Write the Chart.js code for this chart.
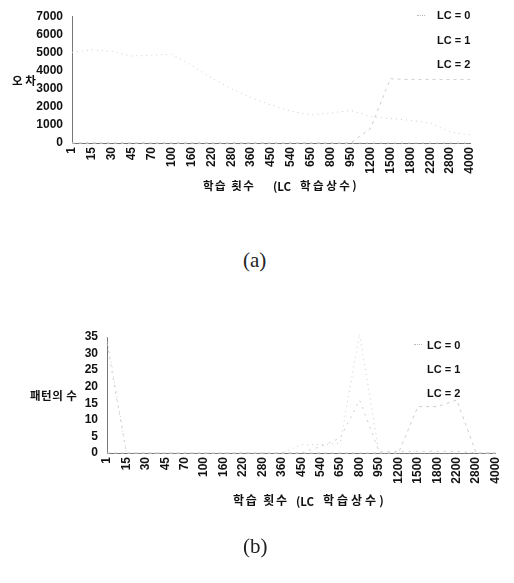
<!DOCTYPE html>
<html>
<head>
<meta charset="utf-8">
<script src="https://cdn.jsdelivr.net/npm/chart.js@4.4.0/dist/chart.umd.min.js"></script>
<style>
  body { margin: 0; background: #fff; }
  #page { position: relative; width: 514px; height: 583px; overflow: hidden; }
  .box { position: absolute; left: 0; }
  .t { position: absolute; white-space: pre; color: #111; line-height: 14px; }
  .kr { font-family: 'Noto Sans CJK KR', sans-serif; font-size: 11.5px; font-weight: bold; }
  .lg { font-family: 'Liberation Sans', Arial, sans-serif; font-size: 11px; font-weight: bold; }
  .mk { position: absolute; height: 0; border-top: 1px dotted #bbb; width: 8px; }
  .cap { font-family: 'Liberation Serif', 'DejaVu Serif', serif; font-size: 21px; color: #222; line-height: 24px; }
</style>
</head>
<body>
<div id="page">
  <div class="box" style="top:0;width:514px;height:180px"><canvas id="errChart" width="514" height="180"></canvas></div>
  <div class="box" style="top:320px;width:514px;height:180px"><canvas id="patChart" width="514" height="180"></canvas></div>

  <!-- (a) texts -->
  <div class="t kr" style="left:12px;top:73px">오 차</div>
  <div class="t kr" style="left:203px;top:178px;letter-spacing:1.5px">학습 횟수</div>
  <div class="t kr" style="left:273px;top:179px">(LC</div>
  <div class="t kr" style="left:300px;top:178px;letter-spacing:2.5px">학습상수)</div>
  <div class="mk" style="left:417px;top:15px"></div>
  <div class="t lg" style="left:437px;top:8px">LC = 0</div>
  <div class="t lg" style="left:437px;top:33px">LC = 1</div>
  <div class="t lg" style="left:437px;top:57px">LC = 2</div>
  <div class="t cap" style="left:243px;top:248px">(a)</div>

  <!-- (b) texts -->
  <div class="t kr" style="left:30px;top:388px;letter-spacing:0.5px">패턴의 수</div>
  <div class="t kr" style="left:233px;top:493px;font-size:12px;letter-spacing:1.8px">학습 횟수</div>
  <div class="t kr" style="left:296px;top:494px">(LC</div>
  <div class="t kr" style="left:323px;top:493px;font-size:12px;letter-spacing:3px">학습상수)</div>
  <div class="mk" style="left:414px;top:344px"></div>
  <div class="t lg" style="left:427px;top:338px">LC = 0</div>
  <div class="t lg" style="left:427px;top:362px">LC = 1</div>
  <div class="t lg" style="left:427px;top:386px">LC = 2</div>
  <div class="t cap" style="left:243px;top:534px">(b)</div>
</div>
<script>
// training iterations (x categories), shared by both charts
const iterations = ['1', '15', '30', '45', '70', '100', '160', '220', '280', '360', '450',
                    '540', '650', '800', '950', '1200', '1500', '1800', '2200', '2800', '4000'];

// (a) error
const errorMax = 7000;
const errorStep = 1000;
const errLC0 = [5000, 5150, 5050, 4800, 4850, 4900, 4300, 3600, 3000, 2500, 2100,
                1750, 1550, 1650, 1800, 1450, 1350, 1250, 1100, 600, 450];
const errLC1 = [0, 0, 0, 0, 0, 0, 0, 0, 0, 0, 0, 0, 0, 0, 0, 0, 0, 0, 0, 0, 0];
const errLC2 = [0, 0, 0, 0, 0, 0, 0, 0, 0, 0, 0, 0, 0, 0, 0, 800, 3550, 3500, 3500, 3500, 3500];

// (b) number of patterns
const patternMax = 35;
const patternStep = 5;
const patLC0 = [35, 0, 0, 0, 0, 0, 0, 0, 0, 0, 2.5, 2.5, 3, 36, 0, 0, 0, 0, 0, 0, 0];
const patLC1 = [33, 0, 0, 0, 0, 0, 0, 0, 0, 0, 0, 2, 4.5, 16, 0.5, 0.5, 0.5, 0.5, 0.5, 0, 0];
const patLC2 = [0, 0, 0, 0, 0, 0, 0, 0, 0, 0, 0, 0, 0, 0, 0, 0, 14, 14, 16, 0, 0];

const tickFont = { family: "'Liberation Sans', Arial, sans-serif", size: 12, weight: 'bold' };

function series(label, data, dash) {
    return {
        label: label,
        data: data,
        borderColor: '#cdcdcd',
        borderWidth: 1,
        borderDash: dash,
        pointRadius: 0,
        tension: 0,
        fill: false,
        clip: false
    };
}

function makeChart(id, sets, yMax, yStep, yWidth, xHeight, pad) {
    const ctx = document.getElementById(id).getContext('2d');
    return new Chart(ctx, {
        type: 'line',
        data: {
            labels: iterations,
            datasets: [
                series('LC = 0', sets[0], [1, 4]),
                series('LC = 1', sets[1], [2, 5]),
                series('LC = 2', sets[2], [3, 4])
            ]
        },
        options: {
            responsive: false,
            animation: false,
            devicePixelRatio: 1,
            layout: { padding: pad },
            plugins: { legend: { display: false }, tooltip: { enabled: false } },
            scales: {
                x: {
                    type: 'category',
                    offset: false,
                    grid: { display: false, drawTicks: false },
                    border: { display: true, color: '#777', dash: [1.5, 5] },
                    ticks: {
                        font: tickFont,
                        color: '#111',
                        autoSkip: false,
                        minRotation: 90,
                        maxRotation: 90,
                        padding: 4
                    },
                    afterFit: (s) => { s.height = xHeight; }
                },
                y: {
                    min: 0,
                    max: yMax,
                    grid: { display: false, drawTicks: false },
                    border: { display: true, color: '#777', width: 1 },
                    ticks: {
                        stepSize: yStep,
                        autoSkip: false,
                        font: tickFont,
                        color: '#111',
                        padding: 9,
                        callback: (v) => String(v)
                    },
                    afterFit: (s) => { s.width = yWidth; }
                }
            }
        }
    });
}

makeChart('errChart', [errLC0, errLC1, errLC2], errorMax, errorStep, 72, 37,
          { top: 15, right: 44, left: 0, bottom: 0 });
makeChart('patChart', [patLC0, patLC1, patLC2], patternMax, patternStep, 107, 47,
          { top: 17, right: 9, left: 0, bottom: 0 });
</script>
</body>
</html>
